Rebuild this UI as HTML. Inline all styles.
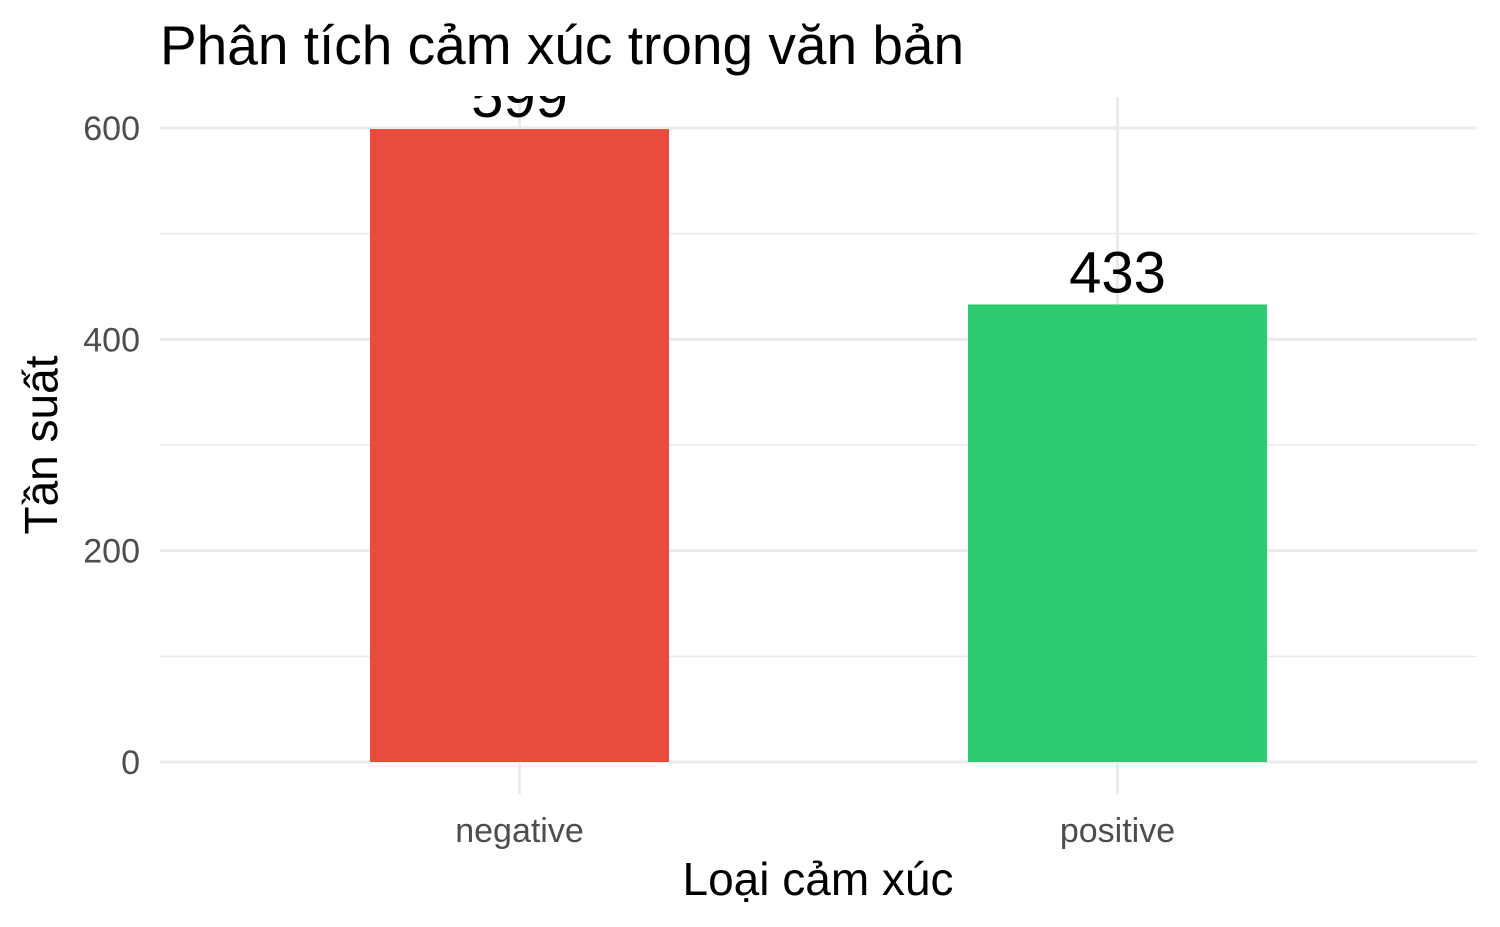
<!DOCTYPE html>
<html><head><meta charset="utf-8"><style>
html,body{margin:0;padding:0;background:#fff;}
svg{display:block;font-family:"Liberation Sans",Arial,sans-serif;}
</style></head><body>
<svg id="chart" width="1500" height="927">
<defs><clipPath id="pc"><rect x="0" y="96" width="1500" height="831"/></clipPath></defs>
<text x="160" y="64" font-size="55" fill="#000">Phân tích cảm xúc trong văn bản</text>
<g id="grid"></g>
<g id="bars"></g>
<g id="labels" clip-path="url(#pc)"></g>
<g id="axes"></g>
<text x="818" y="895" font-size="46" text-anchor="middle" fill="#000">Loại cảm xúc</text>
<text transform="translate(57,445) rotate(-90)" font-size="46" text-anchor="middle" fill="#000">Tần suất</text>
</svg>
<script>
const categories = ["negative","positive"];
const values = [599,433];
const colors = ["#E74C3C","#2ECC71"];
const yTicks = [0,200,400,600];
const yMinor = [100,300,500];

const ns="http://www.w3.org/2000/svg";
const X0=160,X1=1477,yBase=762,pxPerUnit=(762-128)/600,panelTop=97;
const yScale=v=>yBase-v*pxPerUnit;
const xc=i=>519.5+i*598;
function mk(tag,attrs,parent){const e=document.createElementNS(ns,tag);for(const k in attrs)e.setAttribute(k,attrs[k]);document.getElementById(parent).appendChild(e);return e;}
yMinor.forEach(v=>{
  const l=mk('line',{x1:X0,x2:X1,y1:yScale(v),y2:yScale(v),stroke:'#ebebeb','stroke-width':1.5},'grid');
  
  
});
yTicks.forEach(v=>{
  const l=mk('line',{x1:X0,x2:X1,y1:yScale(v),y2:yScale(v),stroke:'#ebebeb','stroke-width':3},'grid');
  
  
  const t=mk('text',{x:140,y:yScale(v)+12,'font-size':34,'text-anchor':'end',fill:'#4d4d4d'},'axes');
  t.textContent=v;
  
  
});
categories.forEach((c,i)=>{
  const l=mk('line',{x1:xc(i),x2:xc(i),y1:panelTop,y2:794,stroke:'#ebebeb','stroke-width':3},'grid');
  
  
  const b=mk('rect',{x:xc(i)-149.5,width:299,y:yScale(values[i]),height:yBase-yScale(values[i]),fill:colors[i]},'bars');
  
  
  const lb=mk('text',{x:xc(i),y:yScale(values[i])-12,'font-size':58,'text-anchor':'middle',fill:'#000'},'labels');
  lb.textContent=values[i];
  
  
  const t=mk('text',{x:xc(i),y:842,'font-size':34,'text-anchor':'middle',fill:'#4d4d4d'},'axes');
  t.textContent=c;
  
  
});
</script>
</body></html>
